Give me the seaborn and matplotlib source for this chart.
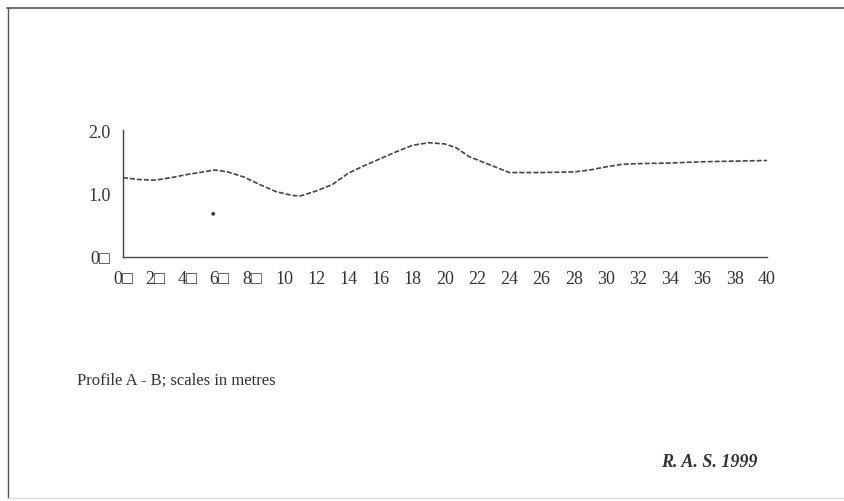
import matplotlib
matplotlib.use("Agg")
import matplotlib.pyplot as plt
import numpy as np
import pandas as pd
import seaborn as sns
from matplotlib.lines import Line2D

# profile readings (distance in m, height in m)
distance = [0, 1, 2, 3, 4, 5, 5.7, 6.5, 7.5, 8.5, 9.5, 10.5, 11, 12, 13, 14, 15,
            16, 17, 18, 19, 20, 20.7, 21.5, 22.5, 24, 26, 28, 29, 30, 31, 32, 34, 36, 38, 40]
height = [1.25, 1.22, 1.21, 1.25, 1.30, 1.34, 1.37, 1.34, 1.26, 1.14, 1.03, 0.97, 0.96,
          1.04, 1.14, 1.32, 1.44, 1.55, 1.66, 1.76, 1.80, 1.78, 1.72, 1.58, 1.48, 1.33,
          1.33, 1.34, 1.37, 1.42, 1.46, 1.47, 1.48, 1.50, 1.51, 1.52]
spot_x = [5.6]
spot_y = [0.68]

x_ticks = list(range(0, 41, 2))
x_labels = ["0\u25a1", "2\u25a1", "4\u25a1", "6\u25a1", "8\u25a1"] + [str(v) for v in range(10, 41, 2)]
y_ticks = [0, 1.0, 2.0]
y_labels = ["0\u25a1", "1.0", "2.0"]

caption = "Profile A - B; scales in metres"
signature = "R. A. S. 1999"

sns.set_style("white")
plt.rcParams["font.family"] = ["Liberation Serif", "DejaVu Serif", "DejaVu Sans"]

W, H = 844, 502
fig = plt.figure(figsize=(W / 100, H / 100), dpi=100)
fig.patch.set_facecolor("white")

ax = fig.add_axes([123 / W, (H - 258) / H, (767 - 123) / W, (258 - 131) / H])
df = pd.DataFrame({"distance": distance, "height": height})
sns.lineplot(data=df, x="distance", y="height", ax=ax, color="#444444",
             linewidth=1.2, linestyle=(0, (3, 1.2)))
sns.scatterplot(x=spot_x, y=spot_y, ax=ax, color="#333333", s=7, edgecolor="none")

ax.set_xlim(0, 40)
ax.set_ylim(0, 2.0)
ax.set_xticks(x_ticks)
ax.set_xticklabels(x_labels, fontsize=13, color="#333333")
ax.set_yticks(y_ticks)
ax.set_yticklabels(y_labels, fontsize=13, color="#333333")
ax.tick_params(axis="x", direction="in", length=4, width=0.9, color="#444444", pad=9)
ax.tick_params(axis="y", direction="out", length=3, width=0.9, color="#444444", pad=6)
ax.set_xlabel("")
ax.set_ylabel("")
sns.despine(ax=ax)
for side in ["left", "bottom"]:
    ax.spines[side].set_color("#444444")
    ax.spines[side].set_linewidth(1.0)

# page frame
fig.add_artist(Line2D([7 / W, 1], [1 - 8.5 / H, 1 - 8.5 / H], transform=fig.transFigure,
                      color="#555555", linewidth=1.2))
fig.add_artist(Line2D([7.5 / W, 7.5 / W], [1 - 8.5 / H, 1 - 499 / H], transform=fig.transFigure,
                      color="#555555", linewidth=1.0))
fig.add_artist(Line2D([7 / W, 1], [1 - 499 / H, 1 - 499 / H], transform=fig.transFigure,
                      color="#dddddd", linewidth=1.0))

fig.text(77 / W, 1 - 381 / H, caption, fontsize=12, color="#333333", va="center", ha="left")
fig.text(757 / W, 1 - 463 / H, signature, fontsize=13, color="#333333", va="center", ha="right",
         fontweight="bold", fontstyle="italic")

fig.savefig("out.png", dpi=100)
